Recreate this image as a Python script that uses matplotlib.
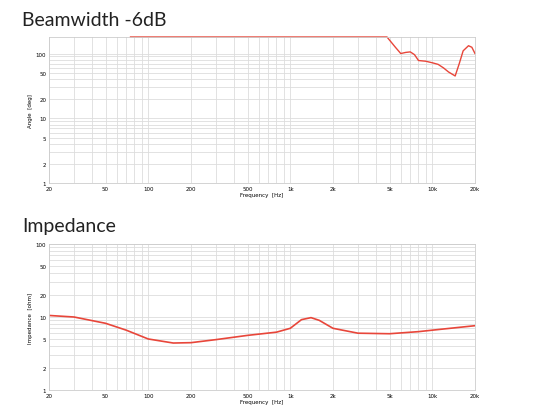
import numpy as np
import matplotlib.pyplot as plt
from matplotlib.ticker import FixedLocator, FixedFormatter, NullFormatter

# beamwidth -6dB (deg), clipped at top of axis
beam_freq = [75, 100, 200, 500, 1000, 2000, 4000, 4800, 5500, 6000, 6500, 7000, 7500,
             8000, 9000, 10000, 11000, 12000, 13000, 14500, 15500, 16500, 18000, 19000, 20000]
beam_deg = [180, 180, 180, 180, 180, 180, 180, 180, 125, 100, 104, 106, 96,
            78, 76, 72, 68, 60, 52, 45, 70, 110, 132, 125, 100]

imp_freq = [20, 30, 50, 70, 100, 150, 200, 300, 500, 800, 1000, 1200, 1400, 1600, 2000,
            3000, 5000, 8000, 10000, 20000]
imp_ohm = [10.5, 10, 8.2, 6.6, 5.0, 4.4, 4.45, 4.9, 5.6, 6.2, 7.0, 9.2, 9.8, 9.0, 7.0,
           6.0, 5.9, 6.3, 6.6, 7.6]

xticks = [20, 50, 100, 200, 500, 1000, 2000, 5000, 10000, 20000]
xlabels = ['20', '50', '100', '200', '500', '1k', '2k', '5k', '10k', '20k']
yticks = [1, 2, 5, 10, 20, 50, 100]
ylabels = ['1', '2', '5', '10', '20', '50', '100']


def style(ax, ylabel, ymax):
    ax.set_xscale('log')
    ax.set_yscale('log')
    ax.set_xlim(20, 20000)
    ax.set_ylim(1, ymax)
    ax.xaxis.set_major_locator(FixedLocator(xticks))
    ax.xaxis.set_major_formatter(FixedFormatter(xlabels))
    ax.xaxis.set_minor_formatter(NullFormatter())
    ax.yaxis.set_major_locator(FixedLocator(yticks))
    ax.yaxis.set_major_formatter(FixedFormatter(ylabels))
    ax.yaxis.set_minor_formatter(NullFormatter())
    ax.grid(True, which='both', color='#dddddd', lw=0.6)
    ax.tick_params(which='both', length=0, labelsize=4, pad=2)
    ax.set_xlabel('Frequency  [Hz]', fontsize=4, labelpad=1)
    ax.set_ylabel(ylabel, fontsize=4, labelpad=2)
    for s in ax.spines.values():
        s.set_color('#cccccc')
        s.set_linewidth(0.6)


fig = plt.figure(figsize=(5.53, 4.14), dpi=100)
ax1 = fig.add_axes([49 / 553, 1 - 184 / 414, 426 / 553, 146 / 414])
ax2 = fig.add_axes([49 / 553, 1 - 391 / 414, 426 / 553, 146 / 414])

style(ax1, 'Angle  [deg]', 180)
ax1.plot(beam_freq, beam_deg, color='#e8463a', lw=1, clip_on=False)

style(ax2, 'Impedance  [ohm]', 100)
ax2.plot(imp_freq, imp_ohm, color='#e8463a', lw=1.2)

fig.text(22 / 553, 1 - 20 / 414, 'Beamwidth -6dB', fontsize=14, family='Lato', color='#222222', va='center')
fig.text(22 / 553, 1 - 227 / 414, 'Impedance', fontsize=14, family='Lato', color='#222222', va='center')

fig.savefig('out.png', dpi=100)
